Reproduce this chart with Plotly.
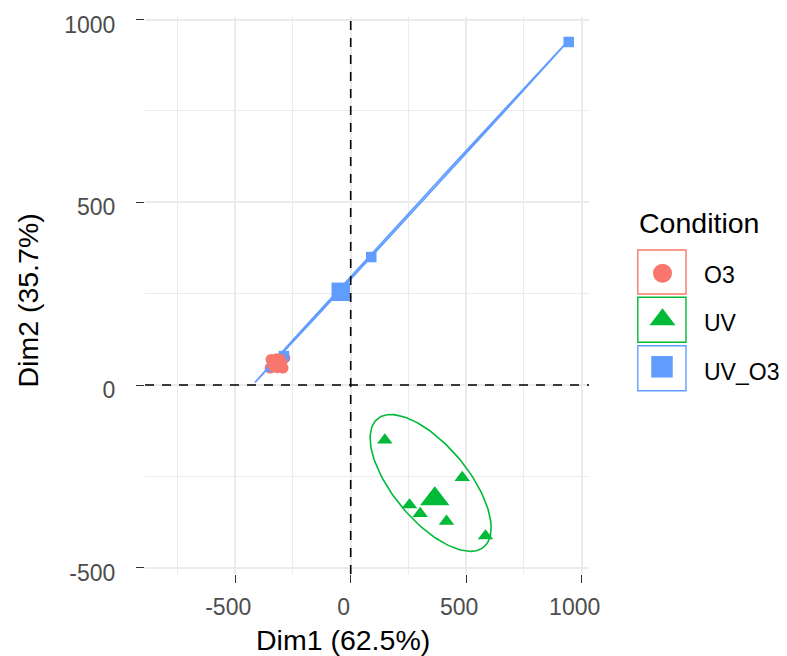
import numpy as np
import plotly.graph_objects as go

# ---------------- data ----------------
groups = ["O3", "UV", "UV_O3"]
colors = {"O3": "#F8766D", "UV": "#00BA38", "UV_O3": "#619CFF"}
symbols = {"O3": "circle", "UV": "triangle-up", "UV_O3": "square"}

o3_dim1 = [-349, -285, -336, -302, -345, -293]
o3_dim2 = [46.5, 74, 68, 52, 70, 46.5]

uv_dim1 = [147.6, 482.7, 254.5, 300.9, 414.7, 583.5]
uv_dim2 = [-150.8, -253.4, -328.3, -351.6, -372.9, -413.1]

uvo3_dim1 = [943.7, 89, -289, -340, -330, -332]
uvo3_dim2 = [938.5, 350, 79, 50, 58, 54.5]

# ellipse parameters per group: centre, and two conjugate half-axis vectors (data units)
ell_center = {"O3": (-320, 61), "UV": (346, -268), "UV_O3": (261, 472.8)}
ell_va = {"O3": (30, 20), "UV": (262, -123), "UV_O3": (675.3, 465.7)}
ell_vb = {"O3": (-6, 8), "UV": (0, -141), "UV_O3": (3.2, -1.9)}

x_ticks = [-500, 0, 500, 1000]
x_ticklabels = ["-500", "0", "500", "1000"]
x_minor = [-750, -250, 250, 750]
y_ticks = [-500, 0, 500, 1000]
y_ticklabels = ["-500", "0", "500", "1000"]
y_minor = [-250, 250, 750]

x_title = "Dim1 (62.5%)"
y_title = "Dim2 (35.7%)"
legend_title = "Condition"

data = {
    "O3": (o3_dim1, o3_dim2),
    "UV": (uv_dim1, uv_dim2),
    "UV_O3": (uvo3_dim1, uvo3_dim2),
}

# ---------------- layout geometry (page pixels) ----------------
W, H = 787, 656
PL, PR, PT, PB = 145, 589, 17, 574  # panel edges
X0PX, XSCALE = 350.7, 0.231          # pixel of x=0, px per unit
Y0PX, YSCALE = 385.0, 0.3655         # pixel of y=0, px per unit

FONT = "Liberation Sans, Arial, Helvetica, sans-serif"

fig = go.Figure()

small_size = {"O3": 11, "UV": 13.5, "UV_O3": 10.5}
big_size = {"O3": 20, "UV": 25.5, "UV_O3": 18.5}

# individual points
for g in groups:
    xs, ys = data[g]
    fig.add_trace(go.Scatter(
        x=xs, y=ys, mode="markers",
        marker=dict(symbol=symbols[g], color=colors[g], size=small_size[g], line=dict(width=0)),
        showlegend=False, hoverinfo="skip",
    ))

# ellipses
t = np.linspace(0, 2 * np.pi, 150)
for g in groups:
    cx, cy = ell_center[g]
    ax_, ay_ = ell_va[g]
    bx_, by_ = ell_vb[g]
    ex = cx + ax_ * np.cos(t) + bx_ * np.sin(t)
    ey = cy + ay_ * np.cos(t) + by_ * np.sin(t)
    fig.add_trace(go.Scatter(
        x=ex, y=ey, mode="lines",
        line=dict(color=colors[g], width=1.6),
        showlegend=False, hoverinfo="skip",
    ))

# group means
for g in groups:
    xs, ys = data[g]
    fig.add_trace(go.Scatter(
        x=[float(np.mean(xs))], y=[float(np.mean(ys))], mode="markers",
        marker=dict(symbol=symbols[g], color=colors[g], size=big_size[g], line=dict(width=0)),
        showlegend=False, hoverinfo="skip",
    ))

# legend markers on a full-page pixel subplot (x2/y2)
leg_x = [662.5, 662.5, 662]
leg_y = [273.3, 319.5, 366.8]
leg_size = {"O3": 19, "UV": 22.5, "UV_O3": 21.5}
for i, g in enumerate(groups):
    fig.add_trace(go.Scatter(
        x=[leg_x[i]], y=[leg_y[i]], xaxis="x2", yaxis="y2", mode="markers",
        marker=dict(symbol=symbols[g], color=colors[g], size=leg_size[g], line=dict(width=0)),
        showlegend=False, hoverinfo="skip",
    ))

shapes = []
# dashed reference lines
shapes.append(dict(type="line", xref="x", yref="y domain", x0=0, x1=0, y0=0, y1=1,
                   line=dict(color="black", width=1.6, dash="9px,8px"), layer="above"))
shapes.append(dict(type="line", xref="x domain", yref="y", x0=0, x1=1, y0=0, y1=0,
                   line=dict(color="black", width=1.6, dash="9px,8px"), layer="above"))

# legend key boxes
boxes = [(250, 294), (297.3, 342.3), (345.7, 390.7)]
for i, g in enumerate(groups):
    y0, y1 = boxes[i]
    shapes.append(dict(type="rect", xref="x2", yref="y2",
                       x0=637.8, x1=686, y0=y0, y1=y1,
                       line=dict(color=colors[g], width=1.4), fillcolor="rgba(0,0,0,0)"))

annotations = []
annotations.append(dict(text=x_title, xref="x2", yref="y2", x=342.5, y=639.5,
                        xanchor="center", yanchor="middle", showarrow=False,
                        font=dict(family=FONT, size=28.5, color="black")))
annotations.append(dict(text=y_title, xref="x2", yref="y2", x=27.5, y=301,
                        xanchor="center", yanchor="middle", showarrow=False, textangle=-90,
                        font=dict(family=FONT, size=28.5, color="black")))
annotations.append(dict(text=legend_title, xref="x2", yref="y2", x=637, y=223,
                        xanchor="left", yanchor="middle", showarrow=False,
                        font=dict(family=FONT, size=28.5, color="black")))
label_y = [275, 323.3, 371.7]
for i, g in enumerate(groups):
    annotations.append(dict(text=g, xref="x2", yref="y2", x=702, y=label_y[i],
                            xanchor="left", yanchor="middle", showarrow=False,
                            font=dict(family=FONT, size=23, color="black")))

grid = "#EBEBEB"
fig.update_layout(
    width=W, height=H,
    autosize=False,
    margin=dict(l=0, r=0, t=0, b=0, pad=0),
    paper_bgcolor="white", plot_bgcolor="rgba(0,0,0,0)",
    showlegend=False,
    font=dict(family=FONT),
    xaxis=dict(
        domain=[PL / W, PR / W], anchor="y",
        range=[(PL - X0PX) / XSCALE, (PR - X0PX) / XSCALE],
        tickmode="array", tickvals=x_ticks, ticktext=x_ticklabels,
        showgrid=True, gridcolor=grid, gridwidth=1.6, zeroline=False, showline=False,
        ticks="outside", ticklen=8, tickwidth=1.4, tickcolor="#333333",
        tickfont=dict(family=FONT, size=23, color="#4D4D4D"),
        ticklabelshift=-7, ticklabelstandoff=4,
        minor=dict(tickmode="array", tickvals=x_minor, showgrid=True, gridcolor=grid,
                   gridwidth=0.8, ticks=""),
        automargin=False, fixedrange=True,
    ),
    yaxis=dict(
        domain=[(H - PB) / H, (H - PT) / H], anchor="x",
        range=[(Y0PX - PB) / YSCALE, (Y0PX - PT) / YSCALE],
        tickmode="array", tickvals=y_ticks, ticktext=y_ticklabels,
        showgrid=True, gridcolor=grid, gridwidth=1.6, zeroline=False, showline=False,
        ticks="outside", ticklen=8, tickwidth=1.4, tickcolor="#333333",
        tickfont=dict(family=FONT, size=23, color="#4D4D4D"),
        ticklabelshift=5, ticklabelstandoff=16,
        minor=dict(tickmode="array", tickvals=y_minor, showgrid=True, gridcolor=grid,
                   gridwidth=0.8, ticks=""),
        automargin=False, fixedrange=True,
    ),
    xaxis2=dict(domain=[0, 1], range=[0, W], anchor="y2", visible=False,
                automargin=False, fixedrange=True),
    yaxis2=dict(domain=[0, 1], range=[H, 0], anchor="x2", visible=False,
                automargin=False, fixedrange=True),
    shapes=shapes,
    annotations=annotations,
)

fig.write_html("out.html", config={"displayModeBar": False},
               post_script="document.body.style.margin='0';document.body.style.padding='0';")
